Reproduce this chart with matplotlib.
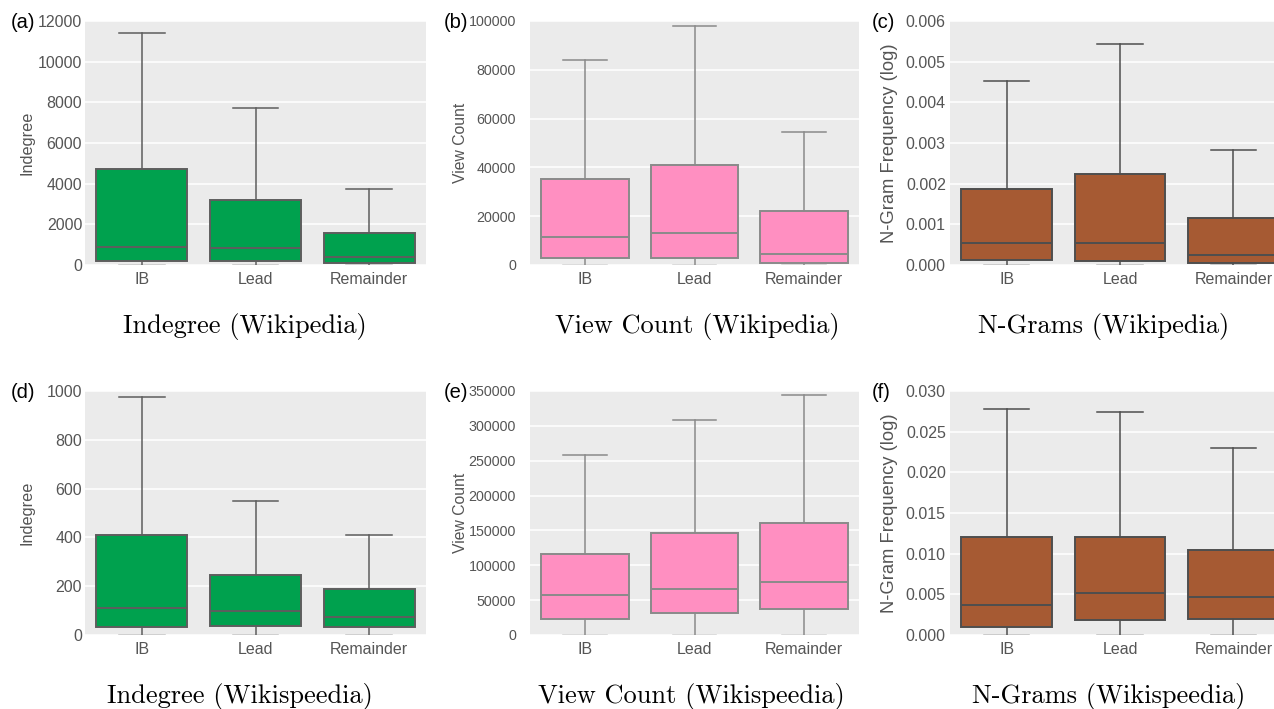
import matplotlib
matplotlib.use("Agg")
import matplotlib.pyplot as plt

# categories and box statistics
categories = ["IB", "Lead", "Remainder"]

# (a) Indegree (Wikipedia)
a_whislo = [0, 0, 0]
a_q1 = [210, 200, 110]
a_med = [870, 820, 390]
a_q3 = [4700, 3220, 1550]
a_whishi = [11420, 7720, 3750]

# (b) View Count (Wikipedia)
b_whislo = [0, 0, 0]
b_q1 = [2700, 2900, 700]
b_med = [11300, 13000, 4400]
b_q3 = [35200, 40800, 22100]
b_whishi = [84000, 98000, 54600]

# (c) N-Grams (Wikipedia)
c_whislo = [0, 0, 0]
c_q1 = [0.000115, 0.0001, 0.00004]
c_med = [0.00055, 0.00053, 0.00024]
c_q3 = [0.00188, 0.00223, 0.00116]
c_whishi = [0.00453, 0.00543, 0.00284]

# (d) Indegree (Wikispeedia)
d_whislo = [0, 0, 0]
d_q1 = [33, 38, 31]
d_med = [109, 98, 73]
d_q3 = [410, 244, 190]
d_whishi = [974, 550, 411]

# (e) View Count (Wikispeedia)
e_whislo = [0, 0, 0]
e_q1 = [22400, 31400, 36700]
e_med = [57100, 66700, 76200]
e_q3 = [116700, 145700, 160500]
e_whishi = [258000, 308600, 343800]

# (f) N-Grams (Wikispeedia)
f_whislo = [0, 0, 0]
f_q1 = [0.00094, 0.00184, 0.00192]
f_med = [0.00364, 0.00511, 0.00462]
f_q3 = [0.01207, 0.01207, 0.01039]
f_whishi = [0.02774, 0.02741, 0.02303]

green = "#00a14e"
pink = "#ff8fc1"
brown = "#a65a33"

panels = [
    ("(a)", "Indegree (Wikipedia)", "Indegree", green, "#5e5e5e",
     (a_whislo, a_q1, a_med, a_q3, a_whishi), 12000, 2000, "{:.0f}"),
    ("(b)", "View Count (Wikipedia)", "View Count", pink, "#8a8a8a",
     (b_whislo, b_q1, b_med, b_q3, b_whishi), 100000, 20000, "{:.0f}"),
    ("(c)", "N-Grams (Wikipedia)", "N-Gram Frequency (log)", brown, "#4e4e4e",
     (c_whislo, c_q1, c_med, c_q3, c_whishi), 0.006, 0.001, "{:.3f}"),
    ("(d)", "Indegree (Wikispeedia)", "Indegree", green, "#5e5e5e",
     (d_whislo, d_q1, d_med, d_q3, d_whishi), 1000, 200, "{:.0f}"),
    ("(e)", "View Count (Wikispeedia)", "View Count", pink, "#8a8a8a",
     (e_whislo, e_q1, e_med, e_q3, e_whishi), 350000, 50000, "{:.0f}"),
    ("(f)", "N-Grams (Wikispeedia)", "N-Gram Frequency (log)", brown, "#4e4e4e",
     (f_whislo, f_q1, f_med, f_q3, f_whishi), 0.030, 0.005, "{:.3f}"),
]

# layout in pixels
W, H = 1274, 709
cols = [(85, 426), (530, 859), (950, 1290)]
rows = [(21, 265), (391, 635)]
tag_x = [11, 444, 872]
tick_pad = [2, 10, 3]
tick_size = [11.5, 10.3, 11.5]
label_right = [34, 468, 898]      # right edge of the y label, in pixels
label_size = [11.7, 11.3, 13.2]
caption_x = [[245, 697, 1104], [240, 691, 1109]]
caption_dy = 62

plt.rcParams['font.family'] = ['Liberation Sans', 'DejaVu Sans']
fig = plt.figure(figsize=(W / 100, H / 100), dpi=100)

for i, (tag, title, ylabel, color, edge, stats, ymax, step, fmt) in enumerate(panels):
    r, c = divmod(i, 3)
    x0, x1 = cols[c]
    y0, y1 = rows[r]
    ax = fig.add_axes([x0 / W, 1 - y1 / H, (x1 - x0) / W, (y1 - y0) / H])
    ax.set_facecolor("#ebebeb")
    for s in ax.spines.values():
        s.set_visible(False)

    whislo, q1, med, q3, whishi = stats
    bstats = []
    for k, cat in enumerate(categories):
        bstats.append(dict(label=cat, whislo=whislo[k], q1=q1[k], med=med[k],
                           q3=q3[k], whishi=whishi[k], fliers=[]))
    parts = ax.bxp(bstats, positions=range(3), widths=0.8, patch_artist=True,
                   showfliers=False,
                   boxprops=dict(facecolor=color, edgecolor=edge, linewidth=1.4),
                   medianprops=dict(color=edge, linewidth=1.4),
                   whiskerprops=dict(color=edge, linewidth=1.1),
                   capprops=dict(color=edge, linewidth=1.1),
                   capwidths=0.4, zorder=3)
    # the lower caps sit on the axis edge and show up faint
    for cap in parts["caps"][0::2]:
        cap.set_alpha(0.35)

    ax.set_xlim(-0.5, 2.5)
    ax.set_ylim(0, ymax)
    ticks = [k * step for k in range(int(round(ymax / step)) + 1)]
    ax.set_yticks(ticks)
    ax.set_yticklabels([fmt.format(t) for t in ticks])
    ax.yaxis.grid(True, color="white", linewidth=1.1, zorder=0)
    ax.set_axisbelow(True)
    ax.tick_params(axis="x", length=0, labelsize=11.5, labelcolor="#555555", pad=5)
    ax.tick_params(axis="y", length=0, labelsize=tick_size[c], labelcolor="#555555",
                   pad=tick_pad[c])
    ax.set_ylabel(ylabel, fontsize=label_size[c], color="#555555")
    ax.yaxis.set_label_coords((label_right[c] - x0) / (x1 - x0), 0.5)
    ax.set_xticks(range(3))
    ax.set_xticklabels(categories)

    # panel tag to the left of the top tick label
    fig.text(tag_x[c] / W, 1 - (y0 + 2) / H, tag, fontsize=14.5,
             ha="left", va="center", color="black")
    # subplot caption underneath
    fig.text(caption_x[r][c] / W, 1 - (y1 + caption_dy) / H, title, fontsize=19,
             family="cmr10", ha="center", va="center", color="black")

plt.savefig("out.png", dpi=100)
